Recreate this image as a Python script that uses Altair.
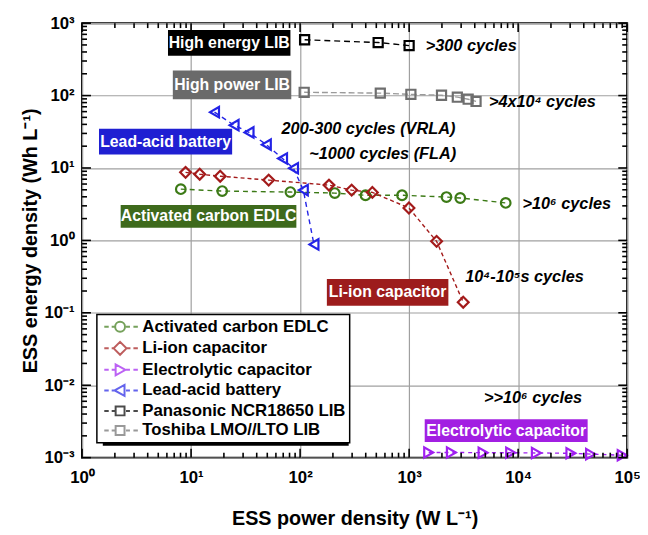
import altair as alt
import pandas as pd

# ---------------- data ----------------
series_names = ["Activated carbon EDLC", "Li-ion capacitor", "Electrolytic capacitor",
                "Lead-acid battery", "Panasonic NCR18650 LIB", "Toshiba LMO//LTO LIB"]
series_colors = ["#3c7a16", "#a31a1a", "#a020f0", "#2323e6", "#000000", "#6e6e6e"]
line_colors = ["#3c7a16", "#a31a1a", "#a020f0", "#2323e6", "#000000", "#9a9a9a"]

edlc_x = [8.05, 19.3, 81.5, 208, 398, 861, 2200, 2944, 7690]
edlc_y = [5.1, 4.8, 4.65, 4.5, 4.2, 4.2, 3.97, 3.85, 3.29]

lic_x = [8.9, 12, 18.5, 51.5, 184, 297, 460, 996, 1786, 3135]
lic_y = [8.7, 8.2, 7.7, 6.8, 5.8, 4.95, 4.6, 2.8, 0.97, 0.14]

elec_x = [1512, 2442, 4770, 8540, 14700, 30500, 46200, 90100]
elec_y = [0.00118, 0.00118, 0.00117, 0.00117, 0.00116, 0.00115, 0.00112, 0.00108]

lead_x = [16.4, 24.8, 34, 49, 69, 87, 107, 134]
lead_y = [59, 39, 31, 21, 13.5, 9.9, 4.95, 0.88]

pana_x = [110, 520, 1000]
pana_y = [590, 540, 490]

tosh_x = [109, 544, 1038, 1982, 2768, 3480, 4110]
tosh_y = [111, 108, 104, 101, 95, 89, 83]

series_x = [edlc_x, lic_x, elec_x, lead_x, pana_x, tosh_x]
series_y = [edlc_y, lic_y, elec_y, lead_y, pana_y, tosh_y]

# boxed labels
box_text = ["High energy LIB", "High power LIB", "Lead-acid battery",
            "Activated carbon EDLC", "Li-ion capacitor", "Electrolytic capacitor"]
box_fill = ["#000000", "#6a6a6a", "#1f1fd2", "#3e6a1c", "#9d1c1c", "#a21fe2"]
box_x1 = [6.14, 6.8, 1.43, 2.26, 176, 1390]
box_x2 = [81.5, 83, 23.8, 92.4, 2291, 43400]
box_y1 = [802, 221, 34.7, 3.09, 0.293, 0.00338]
box_y2 = [355, 89, 15.4, 1.5, 0.125, 0.00164]

# cycle annotations
ann_text = [">300 cycles", ">4x10⁴ cycles", "200-300 cycles (VRLA)", "~1000 cycles (FLA)",
            ">10⁶ cycles", "10⁴-10⁵s cycles", ">>10⁶ cycles"]
ann_x = [1420, 5395, 67.6, 121, 10960, 3270, 4860]
ann_y = [485, 81, 34.7, 15.4, 3.18, 0.312, 0.00655]

x_major = [1, 10, 100, 1000, 10000, 100000]
y_major = [0.001, 0.01, 0.1, 1, 10, 100, 1000]
x_minor = [m * 10 ** e for e in range(0, 5) for m in range(2, 10)]
y_minor = [round(m * 10.0 ** e, 6) for e in range(-3, 3) for m in range(2, 10)]

# ---------------- styling ----------------
W, H = 552, 440
FONT = "Liberation Sans"
shapes = ["circle", "diamond", "triangle-right", "triangle-left", "square", "square"]
sizes = [95, 120, 110, 110, 85, 85]
dashes = [[5, 4], [4, 3], [4, 4], [5, 4], [6, 4], [6, 3]]

lbl = "['10⁻³','10⁻²','10⁻¹','10⁰','10¹','10²','10³','10⁴','10⁵'][round(log(datum.value)/LN10)+3]"

xs = alt.Scale(type="log", domain=[1, 100000], nice=False)
ys = alt.Scale(type="log", domain=[0.001, 1000], nice=False)

x_axis = alt.Axis(values=x_major, labelExpr=lbl, ticks=False, domain=False, grid=True,
                  gridColor="#a0a0a0", gridWidth=1.2, labelFont=FONT, labelFontSize=17,
                  labelFontWeight="bold", labelColor="black", labelPadding=12,
                  labelOverlap=False, labelFlush=False,
                  title="ESS power density (W L⁻¹)", titleFont=FONT, titleFontSize=20,
                  titleFontWeight="bold", titleColor="black", titlePadding=24)
y_axis = alt.Axis(values=y_major, labelExpr=lbl, ticks=False, domain=False, grid=True,
                  gridColor="#a0a0a0", gridWidth=1.2, labelFont=FONT, labelFontSize=17,
                  labelFontWeight="bold", labelColor="black", labelPadding=8,
                  labelOverlap=False, labelFlush=False,
                  title="ESS energy density (Wh L⁻¹)", titleFont=FONT, titleFontSize=20,
                  titleFontWeight="bold", titleColor="black", titlePadding=4)

X = alt.X("x:Q", scale=xs, axis=x_axis)
Y = alt.Y("y:Q", scale=ys, axis=y_axis)

layers = []

# label boxes
box_df = pd.DataFrame({"t": box_text, "fill": box_fill, "x": box_x1, "x2": box_x2,
                       "y": box_y1, "y2": box_y2})
box_df["cx"] = (box_df["x"] * box_df["x2"]) ** 0.5
box_df["cy"] = (box_df["y"] * box_df["y2"]) ** 0.5
layers.append(alt.Chart(box_df).mark_rect().encode(
    x=X, x2="x2:Q", y=Y, y2="y2:Q", color=alt.Color("fill:N", scale=None)))
layers.append(alt.Chart(box_df).mark_text(color="white", font=FONT, fontSize=16,
                                          fontWeight="bold").encode(
    x=alt.X("cx:Q", scale=xs, axis=x_axis), y=alt.Y("cy:Q", scale=ys, axis=y_axis), text="t:N"))

# legend shadow (decoration)
layers.append(alt.Chart(pd.DataFrame({"x": [1.0], "y": [1.0]})).mark_rect(color="black").encode(
    x=alt.value(21), x2=alt.value(270), y=alt.value(299), y2=alt.value(428)))

# series lines and points
for i, name in enumerate(series_names):
    d = pd.DataFrame({"x": series_x[i], "y": series_y[i], "i": range(len(series_x[i]))})
    layers.append(alt.Chart(d).mark_line(color=line_colors[i], strokeDash=dashes[i],
                                         strokeWidth=1.4).encode(
        x=X, y=Y, order="i:Q"))
for i, name in enumerate(series_names):
    d = pd.DataFrame({"x": series_x[i], "y": series_y[i]})
    layers.append(alt.Chart(d).mark_point(shape=shapes[i], filled=False, color=series_colors[i],
                                          size=sizes[i], strokeWidth=2.2,
                                          opacity=1).encode(x=X, y=Y))

# annotations
ann_df = pd.DataFrame({"t": ann_text, "x": ann_x, "y": ann_y})
layers.append(alt.Chart(ann_df).mark_text(align="left", baseline="middle", font=FONT,
                                          fontSize=16.5, fontStyle="italic",
                                          fontWeight="bold", color="black").encode(
    x=X, y=Y, text="t:N"))

# inward ticks on all four sides (axis decoration): tick marks anchored on the frame edges
for vals, size in [(x_major, 9), (x_minor, 5)]:
    for edge, off in [(0.001, -size / 2), (1000, size / 2)]:
        tdf = pd.DataFrame({"x": [float(v) for v in vals], "y": [edge] * len(vals)})
        layers.append(alt.Chart(tdf).mark_tick(orient="vertical", size=size, thickness=1.6,
                                               color="black", opacity=1,
                                               yOffset=off).encode(x=X, y=Y))
for vals, size in [(y_major, 9), (y_minor, 5)]:
    for edge, off in [(1, size / 2), (100000, -size / 2)]:
        tdf = pd.DataFrame({"y": [float(v) for v in vals], "x": [float(edge)] * len(vals)})
        layers.append(alt.Chart(tdf).mark_tick(orient="horizontal", size=size, thickness=1.6,
                                               color="black", opacity=1,
                                               xOffset=off).encode(x=X, y=Y))

# legend layer (no visible marks; legend only)
dl = "M-1,0H-0.1M0.5,0H1.1"
dr = "M3.4,0H4.2M4.9,0H5.8"
leg_paths = [
    dl + "M3.2,0A1,1 0 1,1 1.2,0A1,1 0 1,1 3.2,0Z" + dr,
    dl + "M2.2,-1.3L3.5,0L2.2,1.3L0.9,0Z" + "M3.6,0H4.3M4.9,0H5.8",
    dl + "M3.3,0L1.3,-1.1L1.3,1.1Z" + dr,
    dl + "M1.1,0L3.1,-1.1L3.1,1.1Z" + dr,
    dl + "M1.3,-0.9H3.1V0.9H1.3Z" + dr,
    dl + "M1.3,-0.9H3.1V0.9H1.3Z" + dr,
]
leg = alt.Legend(orient="none", legendX=15, legendY=295, title=None, fillColor="white",
                 strokeColor="black", padding=4, rowPadding=1.8, labelFont=FONT,
                 labelFontSize=17, labelFontWeight="bold", labelColor="black",
                 symbolSize=100, symbolStrokeWidth=2, labelOffset=25, labelLimit=400)
leg_df = pd.DataFrame({"series": pd.Series([], dtype="object")})
layers.append(alt.Chart(leg_df).mark_point(filled=False, strokeWidth=2).encode(
    color=alt.Color("series:N", scale=alt.Scale(domain=series_names, range=series_colors),
                    legend=leg),
    shape=alt.Shape("series:N", scale=alt.Scale(domain=series_names, range=leg_paths),
                    legend=leg)))

chart = alt.layer(*layers).properties(
    width=W, height=H,
    autosize=alt.AutoSizeParams(type="none"),
    padding={"left": 75, "top": 12, "right": 13, "bottom": 75},
).configure_view(stroke="black", strokeWidth=2).configure_legend(strokeWidth=1.5)

chart.save("out.html", embed_options={"renderer": "svg", "actions": False})
